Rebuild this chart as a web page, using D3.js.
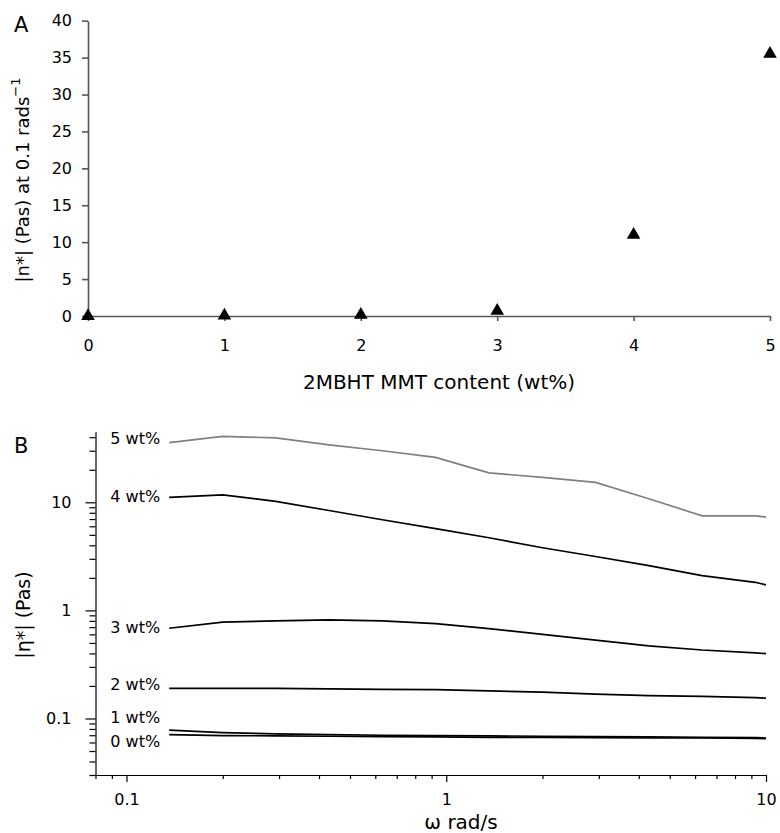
<html>
<head>
<script src="https://d3js.org/d3.v7.min.js"></script>
<style>
  body { margin: 0; background: #fff; }
  svg text { font-family: "DejaVu Sans", Arial, sans-serif; fill: #000; }
</style>
</head>
<body>
<svg id="chart" width="780" height="833"></svg>
<script>
// panel A: viscosity at 0.1 rad/s vs clay content
const contentA = [0, 1, 2, 3, 4, 5];
const etaA = [0, 0.05, 0.15, 0.7, 11, 35.5];
const yTicksA = [0, 5, 10, 15, 20, 25, 30, 35, 40];

// panel B: |eta*| vs frequency, one array per loading
const freq = [0.136, 0.2, 0.293, 0.43, 0.631, 0.926, 1.36, 2.0, 2.93, 4.3, 6.31, 9.26, 10];
const wt5 = [35.7, 40.8, 39.4, 34, 30, 26, 18.7, 17, 15.3, 10.8, 7.5, 7.5, 7.3];
const wt4 = [11.1, 11.7, 10.2, 8.4, 6.9, 5.7, 4.7, 3.8, 3.15, 2.6, 2.1, 1.82, 1.72];
const wt3 = [0.684, 0.778, 0.80, 0.817, 0.80, 0.755, 0.678, 0.6, 0.53, 0.47, 0.43, 0.405, 0.398];
const wt2 = [0.19, 0.19, 0.19, 0.188, 0.186, 0.185, 0.18, 0.175, 0.168, 0.163, 0.16, 0.156, 0.154];
const wt1 = [0.078, 0.074, 0.072, 0.071, 0.070, 0.0695, 0.069, 0.0685, 0.068, 0.0675, 0.067, 0.0665, 0.066];
const wt0 = [0.071, 0.0695, 0.069, 0.0685, 0.068, 0.0675, 0.067, 0.067, 0.0665, 0.066, 0.066, 0.0655, 0.065];
const seriesNames = ["5 wt%", "4 wt%", "3 wt%", "2 wt%", "1 wt%", "0 wt%"];
const yTicksB = [0.1, 1, 10];
const xTicksB = [0.1, 1, 10];

const svg = d3.select("#chart");

// ---------- A ----------
const xA = d3.scaleLinear().domain([0, 5]).range([88, 770]);
const yA = d3.scaleLinear().domain([0, 40]).range([316, 20.7]);

const gA = svg.append("g");
const axA = gA.append("g").attr("transform", "translate(0,316)")
  .call(d3.axisBottom(xA).ticks(5).tickSize(5).tickSizeOuter(0).tickPadding(19));
const ayA = gA.append("g").attr("transform", "translate(88,0)")
  .call(d3.axisLeft(yA).tickValues(yTicksA).tickSize(6).tickSizeOuter(0).tickPadding(10));
[axA, ayA].forEach(a => {
  a.selectAll("path, line").attr("stroke", "#555").attr("stroke-width", 1.6);
  a.selectAll("text").attr("font-size", 16).attr("fill", "#000");
});

gA.selectAll("path.pt")
  .data(contentA.map((c, i) => ({c: c, v: etaA[i]})))
  .enter().append("path")
  .attr("class", "pt")
  .attr("d", d3.symbol().type(d3.symbolTriangle).size(80))
  .attr("transform", d => `translate(${xA(d.c)},${yA(d.v)})`)
  .attr("fill", "#000");

gA.append("text").attr("x", 14).attr("y", 32).attr("font-size", 21).text("A");
gA.append("text").attr("x", 439).attr("y", 389).attr("text-anchor", "middle")
  .attr("font-size", 20).text("2MBHT MMT content (wt%)");
const tA = gA.append("text")
  .attr("transform", "translate(22,180) rotate(-90)")
  .attr("text-anchor", "middle").attr("dominant-baseline", "central")
  .attr("font-size", 18);
tA.append("tspan").text("|n*| (Pas) at 0.1 rads");
tA.append("tspan").attr("font-size", 13).attr("dy", -7).text("\u22121");

// ---------- B ----------
const xB = d3.scaleLog().domain([0.08, 10]).range([95.5, 766]);
const yB = d3.scaleLog().domain([0.03, 45]).range([775, 431.7]);

const minorY = [];
[0.01, 0.1, 1, 10].forEach(d => { for (let k = 2; k <= 9; k++) minorY.push(d * k); });
const minorYB = minorY.filter(v => v >= 0.03 && v <= 45 && !yTicksB.includes(v));
const minorXB = [];
[0.01, 0.1, 1].forEach(d => { for (let k = 2; k <= 9; k++) minorXB.push(d * k); });
const minorXBf = minorXB.filter(v => v >= 0.08 && v < 10);

const gB = svg.append("g");
const mx = gB.append("g").attr("transform", "translate(0,775)")
  .call(d3.axisBottom(xB).tickValues(minorXBf).tickSize(4).tickFormat(""));
const my = gB.append("g").attr("transform", "translate(95.5,0)")
  .call(d3.axisLeft(yB).tickValues(minorYB).tickSize(6).tickFormat(""));
const axB = gB.append("g").attr("transform", "translate(0,775)")
  .call(d3.axisBottom(xB).tickValues(xTicksB).tickSize(7).tickSizeOuter(0)
    .tickPadding(12).tickFormat(d3.format("")));
const ayB = gB.append("g").attr("transform", "translate(95.5,0)")
  .call(d3.axisLeft(yB).tickValues(yTicksB).tickSize(10).tickSizeOuter(0)
    .tickPadding(14).tickFormat(d3.format("")));
[mx, my].forEach(a => a.select(".domain").remove());
[mx, my, axB, ayB].forEach(a => {
  a.selectAll("path, line").attr("stroke", "#000").attr("stroke-width", 1.2);
  a.selectAll("text").attr("font-size", 16).attr("fill", "#000");
});

const seriesVals = [wt5, wt4, wt3, wt2, wt1, wt0];
const series = seriesNames.map((n, i) => ({
  name: n,
  pts: freq.map((f, j) => ({f: f, v: seriesVals[i][j]}))
}));
const line = d3.line().x(d => xB(d.f)).y(d => yB(d.v));
gB.selectAll("path.curve")
  .data(series)
  .enter().append("path")
  .attr("class", "curve")
  .attr("d", d => line(d.pts))
  .attr("fill", "none")
  .attr("stroke", d => d.name === "5 wt%" ? "#808080" : "#000")
  .attr("stroke-width", 1.7);

// curve labels, nudged vertically where lines crowd
const labelShift = {"5 wt%": -4.5, "4 wt%": -1, "3 wt%": -0.6, "2 wt%": -4, "1 wt%": -13, "0 wt%": 7};
gB.selectAll("text.lab")
  .data(series)
  .enter().append("text")
  .attr("class", "lab")
  .attr("x", xB(freq[0]) - 9)
  .attr("y", d => yB(d.pts[0].v) + labelShift[d.name])
  .attr("text-anchor", "end")
  .attr("dominant-baseline", "central")
  .attr("font-size", 16)
  .text(d => d.name);

gB.append("text").attr("x", 14).attr("y", 453).attr("font-size", 21).text("B");
gB.append("text").attr("x", 461).attr("y", 829).attr("text-anchor", "middle")
  .attr("font-size", 20).text("\u03c9 rad/s");
gB.append("text")
  .attr("transform", "translate(23,615) rotate(-90)")
  .attr("text-anchor", "middle").attr("dominant-baseline", "central")
  .attr("font-size", 19).text("|\u03b7*| (Pas)");
</script>
</body>
</html>
